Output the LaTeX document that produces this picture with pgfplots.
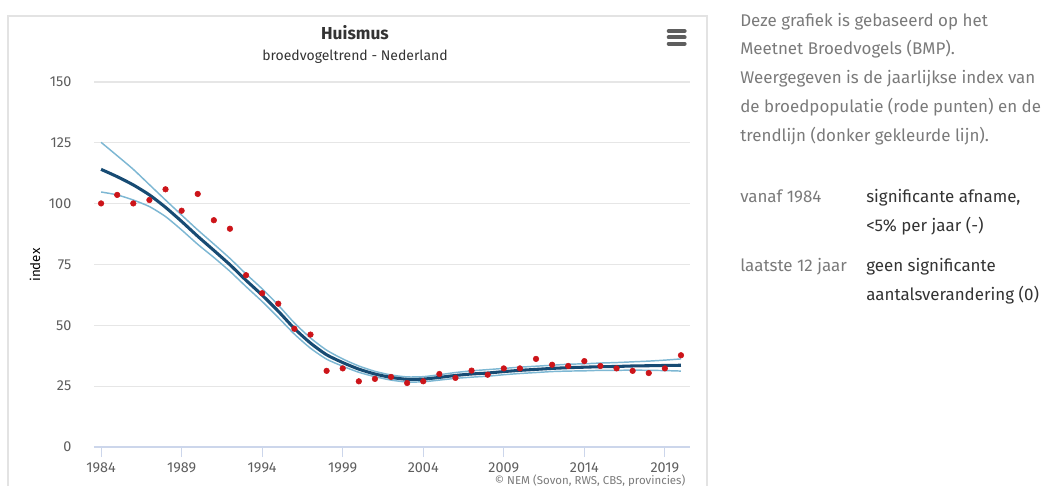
\documentclass[border=0pt]{standalone}
\usepackage{fontspec}
\setmainfont{Fira Sans}
\usepackage{pgfplots}
\pgfplotsset{compat=1.18}
\definecolor{ptred}{HTML}{CC1419}
\definecolor{trend}{HTML}{174B73}
\definecolor{band}{HTML}{7DB7D3}
\definecolor{gridc}{HTML}{E6E6E6}
\definecolor{axisc}{HTML}{CCD6EB}
\definecolor{tickc}{HTML}{5E5E5E}
\definecolor{descc}{HTML}{7A7A7A}
\definecolor{darkc}{HTML}{333333}
\definecolor{cardc}{HTML}{E3E3E3}
\begin{document}
\begin{tikzpicture}
\useasboundingbox (0,0) rectangle (788.25pt,364.5pt);
% card
\draw[cardc, line width=0.9pt] (6pt,-10pt) -- (6pt,352.5pt) -- (530.25pt,352.5pt) -- (530.25pt,-10pt);
\begin{axis}[
  at={(70.5pt,29.25pt)}, anchor=south west,
  scale only axis, width=447pt, height=273.75pt,
  xmin=1983.56, xmax=2020.56, ymin=0, ymax=150,
  xtick={1984,1989,1994,1999,2004,2009,2014,2019},
  ytick={0,25,50,75,100,125,150},
  xticklabel style={/pgf/number format/1000 sep={}, font=\fontsize{10.8}{12}\selectfont, text=tickc, yshift=-0.5pt},
  yticklabel style={font=\fontsize{10.8}{12}\selectfont, text=tickc, xshift=-6pt},
  /pgf/number format/assume math mode=true,
  axis line style={draw=none},
  axis x line*=bottom, axis y line*=left,
  x axis line style={draw=axisc, line width=0.8pt},
  y axis line style={draw=none},
  ymajorgrids, grid style={gridc, line width=0.8pt},
  major tick length=7.5pt,
  xtick style={draw=axisc, line width=0.8pt},
  ytick style={draw=none},
  tick align=outside,
  ylabel={index}, ylabel style={font=\fontsize{10.5}{12}\selectfont, text=tickc},
  every axis y label/.style={at={(26.25pt-70.5pt,136.5pt)}, rotate=90, anchor=center},
  clip=false,
]
% upper band
\addplot[band, line width=1.1pt, smooth, tension=0.4] coordinates {
(1984,125.2)(1985,119.7)(1986,114.1)(1987,107.8)(1988,101.5)(1989,95.3)(1990,89.2)
(1991,83.4)(1992,77.5)(1993,71.1)(1994,65.0)(1995,58.3)(1996,51.0)(1997,44.8)
(1998,39.8)(1999,36.2)(2000,33.3)(2001,31.1)(2002,29.6)(2003,28.8)(2004,28.9)
(2005,29.7)(2006,30.6)(2007,31.3)(2008,31.8)(2009,32.3)(2010,32.8)(2011,33.2)
(2012,33.6)(2013,34.0)(2014,34.2)(2015,34.5)(2016,34.7)(2017,35.0)(2018,35.3)
(2019,35.7)(2020,36.2)};
% lower band
\addplot[band, line width=1.1pt, smooth, tension=0.4] coordinates {
(1984,104.8)(1985,103.6)(1986,101.5)(1987,98.8)(1988,94.7)(1989,89.2)(1990,83.3)
(1991,77.9)(1992,72.2)(1993,65.9)(1994,59.8)(1995,53.2)(1996,46.4)(1997,40.6)
(1998,36.1)(1999,33.2)(2000,30.7)(2001,28.9)(2002,27.5)(2003,26.7)(2004,26.8)
(2005,27.5)(2006,28.2)(2007,28.7)(2008,29.1)(2009,29.7)(2010,30.2)(2011,30.6)
(2012,31.0)(2013,31.2)(2014,31.3)(2015,31.5)(2016,31.5)(2017,31.6)(2018,31.5)
(2019,31.4)(2020,31.2)};
% trend
\addplot[trend, line width=2.3pt, smooth, tension=0.4] coordinates {
(1984,114.1)(1985,111.1)(1986,107.7)(1987,103.6)(1988,98.5)(1989,92.7)(1990,86.6)
(1991,80.8)(1992,74.9)(1993,68.5)(1994,62.4)(1995,55.8)(1996,48.7)(1997,42.7)
(1998,37.9)(1999,34.7)(2000,32.0)(2001,30.0)(2002,28.6)(2003,27.8)(2004,27.9)
(2005,28.6)(2006,29.4)(2007,30.0)(2008,30.4)(2009,31.0)(2010,31.5)(2011,31.9)
(2012,32.3)(2013,32.6)(2014,32.8)(2015,33.0)(2016,33.1)(2017,33.3)(2018,33.4)
(2019,33.5)(2020,33.6)};
% index points
\addplot[only marks, mark=*, mark size=2.1pt, color=ptred] coordinates {
(1984,100.1)(1985,103.6)(1986,100.1)(1987,101.5)(1988,105.9)(1989,97.1)(1990,104.0)
(1991,93.2)(1992,89.7)(1993,70.6)(1994,63.2)(1995,58.9)(1996,48.6)(1997,46.2)
(1998,31.3)(1999,32.3)(2000,27.0)(2001,28.0)(2002,28.8)(2003,26.3)(2004,27.0)
(2005,30.0)(2006,28.4)(2007,31.4)(2008,29.7)(2009,32.3)(2010,32.3)(2011,36.2)
(2012,33.8)(2013,33.3)(2014,35.3)(2015,33.3)(2016,32.3)(2017,31.3)(2018,30.4)
(2019,32.3)(2020,37.7)};
\end{axis}
% titles
\node[font=\bfseries\fontsize{13}{15}\selectfont, text=darkc] at (266.25pt,339.75pt) {Huismus};
\node[font=\fontsize{10.5}{12}\selectfont, text=darkc] at (266.25pt,321.75pt) {broedvogeltrend - Nederland};
% hamburger
\foreach \yy in {341.25,336.5,331.75}
  \draw[tickc, line width=2.9pt, line cap=round] (501.5pt,\yy pt) -- (513.5pt,\yy pt);
% credit
\node[font=\fontsize{8.6}{9}\selectfont, text=descc, anchor=east] at (517.5pt,3.75pt) {© NEM (Sovon, RWS, CBS, provincies)};
% right text
\begin{scope}[every node/.style={anchor=base west, inner sep=0pt, font=\fontsize{12.7}{15}\selectfont}]
\node[text=descc] at (555pt,344.25pt) {Deze grafiek is gebaseerd op het};
\node[text=descc] at (555pt,323.25pt) {Meetnet Broedvogels (BMP).};
\node[text=descc] at (555pt,301.5pt) {Weergegeven is de jaarlijkse index van};
\node[text=descc] at (555pt,279.75pt) {de broedpopulatie (rode punten) en de};
\node[text=descc] at (555pt,258pt) {trendlijn (donker gekleurde lijn).};
\node[text=descc] at (555pt,212.25pt) {vanaf 1984};
\node[text=darkc] at (649.5pt,212.25pt) {significante afname,};
\node[text=darkc] at (649.5pt,190.5pt) {<5\% per jaar (-)};
\node[text=descc] at (555pt,160.5pt) {laatste 12 jaar};
\node[text=darkc] at (649.5pt,160.5pt) {geen significante};
\node[text=darkc] at (649.5pt,138.75pt) {aantalsverandering (0)};
\end{scope}
\end{tikzpicture}
\end{document}
